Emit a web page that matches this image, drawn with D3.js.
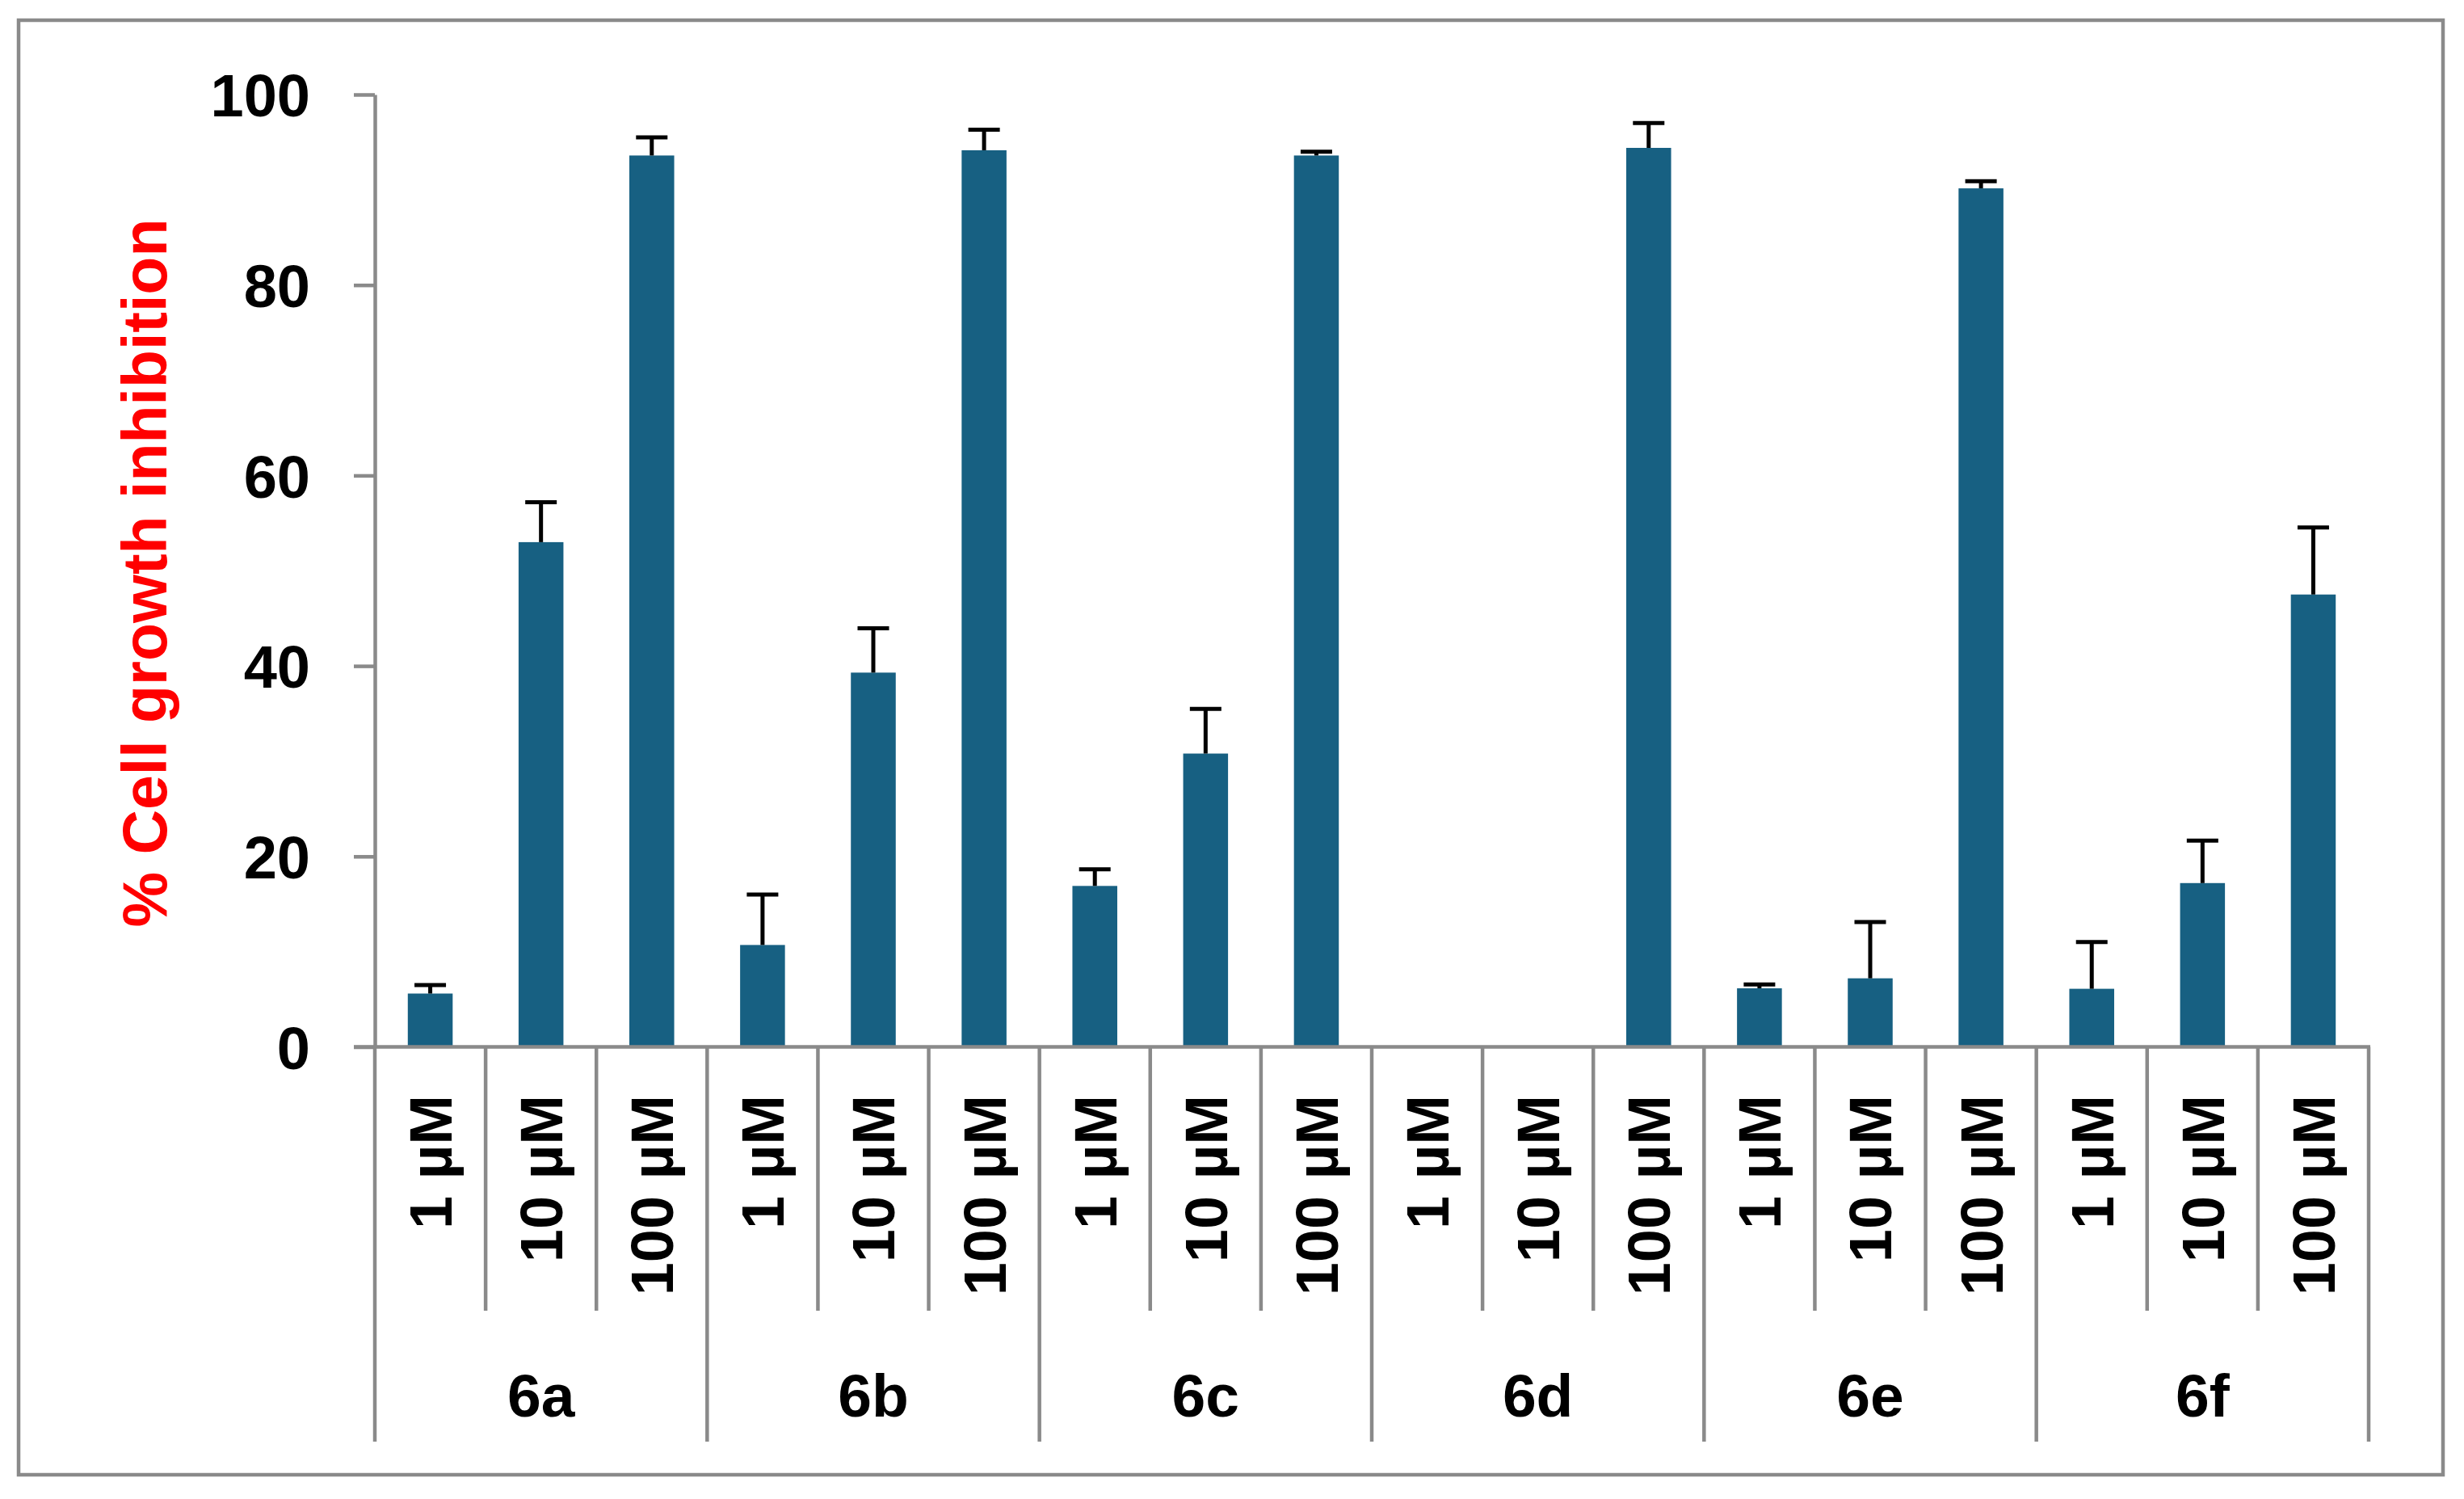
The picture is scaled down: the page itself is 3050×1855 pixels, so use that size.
<!DOCTYPE html>
<html>
<head>
<meta charset="utf-8">
<script src="https://cdn.jsdelivr.net/npm/d3@7"></script>
<style>
  html, body { margin: 0; padding: 0; background: #ffffff; }
  svg { display: block; }
  text { font-family: "Liberation Sans", Arial, sans-serif; font-weight: bold; }
</style>
</head>
<body>
<svg id="chart" width="3050" height="1855"></svg>
<script>
// ---- data ----
const compounds = ["6a", "6b", "6c", "6d", "6e", "6f"];
const concentrations = ["1 µM", "10 µM", "100 µM"];
const inhibition6a = [5.6, 53.0, 93.6];
const inhibition6b = [10.7, 39.3, 94.15];
const inhibition6c = [16.9, 30.8, 93.6];
const inhibition6d = [0, 0, 94.4];
const inhibition6e = [6.15, 7.2, 90.15];
const inhibition6f = [6.1, 17.2, 47.5];
const error6a = [0.9, 4.2, 1.9];
const error6b = [5.3, 4.65, 2.15];
const error6c = [1.75, 4.7, 0.4];
const error6d = [0, 0, 2.6];
const error6e = [0.4, 5.9, 0.75];
const error6f = [4.9, 4.45, 7.05];
const yTicks = [0, 20, 40, 60, 80, 100];
const yTitle = "% Cell growth inhibition";

const values = [inhibition6a, inhibition6b, inhibition6c, inhibition6d, inhibition6e, inhibition6f];
const errors = [error6a, error6b, error6c, error6d, error6e, error6f];

const rows = [];
compounds.forEach((c, gi) => {
  concentrations.forEach((conc, ci) => {
    rows.push({ key: c + "|" + conc, group: c, conc: conc, value: values[gi][ci], err: errors[gi][ci] });
  });
});

// ---- layout ----
const svg = d3.select("#chart");
const gray = "#8a8a8a";
const barColor = "#176082";
const x0 = 464, x1 = 2932;
const yBase = 1295.5, yTop = 117;

const y = d3.scaleLinear().domain([0, 100]).range([yBase, yTop]);
const xSlot = d3.scaleBand().domain(rows.map(d => d.key)).range([x0, x1]).padding(0);
const xGroup = d3.scaleBand().domain(compounds).range([x0, x1]).padding(0);
const barW = xSlot.bandwidth() * 0.405;

svg.append("rect").attr("width", 3050).attr("height", 1855).attr("fill", "#ffffff");

// outer frame
svg.append("rect")
  .attr("x", 23).attr("y", 25).attr("width", 3001).attr("height", 1800)
  .attr("fill", "none").attr("stroke", gray).attr("stroke-width", 4.5);

// bars
svg.append("g").selectAll("rect").data(rows).join("rect")
  .attr("x", d => xSlot(d.key) + (xSlot.bandwidth() - barW) / 2)
  .attr("y", d => y(d.value))
  .attr("width", barW)
  .attr("height", d => y(0) - y(d.value))
  .attr("fill", barColor);

// error bars
const eb = svg.append("g").attr("stroke", "#000").attr("stroke-width", 5);
const withErr = rows.filter(d => d.err > 0);
eb.selectAll("line.stem").data(withErr).join("line").attr("class", "stem")
  .attr("x1", d => xSlot(d.key) + xSlot.bandwidth() / 2)
  .attr("x2", d => xSlot(d.key) + xSlot.bandwidth() / 2)
  .attr("y1", d => y(d.value))
  .attr("y2", d => y(d.value + d.err));
eb.selectAll("line.cap").data(withErr).join("line").attr("class", "cap")
  .attr("x1", d => xSlot(d.key) + xSlot.bandwidth() / 2 - 19.5)
  .attr("x2", d => xSlot(d.key) + xSlot.bandwidth() / 2 + 19.5)
  .attr("y1", d => y(d.value + d.err))
  .attr("y2", d => y(d.value + d.err));

// y axis
const yAxis = d3.axisLeft(y).tickValues(yTicks).tickSize(26).tickSizeOuter(0).tickPadding(54);
const gy = svg.append("g").attr("transform", `translate(${x0},0)`).call(yAxis);
gy.select(".domain").attr("stroke", gray).attr("stroke-width", 4.5);
gy.selectAll(".tick line").attr("stroke", gray).attr("stroke-width", 4.5);
gy.selectAll(".tick text")
  .attr("fill", "#000")
  .style("font-family", '"Liberation Sans", Arial, sans-serif')
  .style("font-weight", "bold")
  .style("font-size", "74px")
  .attr("dy", "0.36em");

// baseline (category axis)
svg.append("line")
  .attr("x1", 438).attr("x2", x1 + 2)
  .attr("y1", yBase).attr("y2", yBase)
  .attr("stroke", gray).attr("stroke-width", 4.5);

// slot separators (inside groups)
const slotEdges = rows.map(d => xSlot(d.key)).filter((v, i) => i % 3 !== 0);
svg.append("g").selectAll("line").data(slotEdges).join("line")
  .attr("x1", d => d).attr("x2", d => d)
  .attr("y1", yBase).attr("y2", 1622)
  .attr("stroke", gray).attr("stroke-width", 4.5);

// group separators
const groupEdges = compounds.map(c => xGroup(c)).concat([x1]);
svg.append("g").selectAll("line").data(groupEdges).join("line")
  .attr("x1", d => d).attr("x2", d => d)
  .attr("y1", yBase).attr("y2", 1784)
  .attr("stroke", gray).attr("stroke-width", 4.5);

// concentration labels (rotated)
const labFs = 74, capH = labFs * 0.716;
svg.append("g").selectAll("text").data(rows).join("text")
  .attr("transform", d => `translate(${xSlot(d.key) + xSlot.bandwidth() / 2 + capH / 2},1355) rotate(-90)`)
  .attr("text-anchor", "end")
  .attr("fill", "#000")
  .style("font-size", labFs + "px")
  .text(d => d.conc);

// compound labels
svg.append("g").selectAll("text").data(compounds).join("text")
  .attr("x", d => xGroup(d) + xGroup.bandwidth() / 2)
  .attr("y", 1753)
  .attr("text-anchor", "middle")
  .attr("fill", "#000")
  .style("font-size", "75px")
  .text(d => d);

// y title
svg.append("text")
  .attr("transform", "translate(206,709) rotate(-90)")
  .attr("text-anchor", "middle")
  .attr("fill", "#ff0000")
  .style("font-size", "77px")
  .text(yTitle);
</script>
</body>
</html>
